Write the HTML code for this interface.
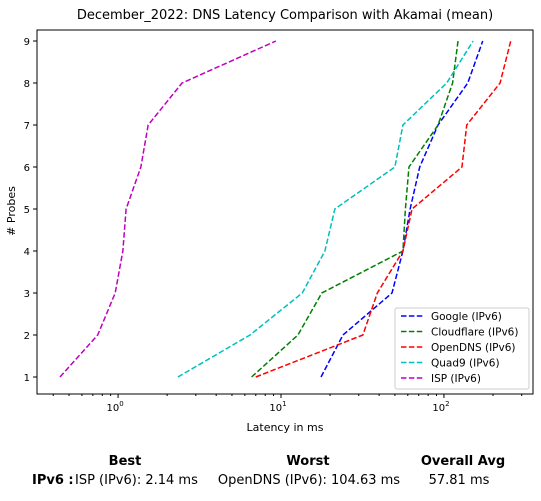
<!DOCTYPE html>
<html><head><meta charset="utf-8"><style>
body{margin:0;background:#fff;font-family:"Liberation Sans","DejaVu Sans",sans-serif}
svg text{font-family:"DejaVu Sans","Liberation Sans",sans-serif}
</style></head><body>
<svg id="chart" width="541" height="496" xmlns="http://www.w3.org/2000/svg">
<rect width="541" height="496" fill="#fff"/>
<text x="285" y="19" font-size="13" text-anchor="middle">December_2022: DNS Latency Comparison with Akamai (mean)</text>
<g id="plot"></g>
<text x="285" y="431" font-size="11" text-anchor="middle">Latency in ms</text>
<text transform="translate(15,211) rotate(-90)" font-size="11" text-anchor="middle"># Probes</text>
<g>
<rect x="395" y="308" width="134" height="81" rx="2" fill="#fff" stroke="#ccc"/>
</g>
<g font-size="13">
<text x="125" y="465" font-weight="bold" text-anchor="middle">Best</text>
<text x="308" y="465" font-weight="bold" text-anchor="middle">Worst</text>
<text x="463" y="465" font-weight="bold" text-anchor="middle">Overall Avg</text>
<text x="32" y="484" font-weight="bold">IPv6 :</text>
<text x="75" y="484">ISP (IPv6): 2.14 ms</text>
<text x="309" y="484" text-anchor="middle">OpenDNS (IPv6): 104.63 ms</text>
<text x="459" y="484" text-anchor="middle">57.81 ms</text>
</g>
</svg>
<script>
const probes=[1,2,3,4,5,6,7,8,9];
const seriesNames=["Google (IPv6)","Cloudflare (IPv6)","OpenDNS (IPv6)","Quad9 (IPv6)","ISP (IPv6)"];
const google=[17.6,24,48,56,62,71,92,140,173];
const cloudflare=[6.6,12.7,17.8,56,58,61,92,113,122];
const opendns=[7.0,31.8,39,56,63.7,129,138,221,257];
const quad9=[2.33,6.45,13.5,18.6,21.4,50,56,104,151];
const isp=[0.44,0.75,0.96,1.07,1.12,1.38,1.53,2.47,9.3];
const yTicks=[1,2,3,4,5,6,7,8,9];
const xMajor=[1,10,100];
const colors=["#0000ff","#008000","#ff0000","#00bfbf","#bf00bf"];
const L=37,R=533,T=30,B=394;
const xMin=Math.log10(0.318),xMax=Math.log10(352);
function xs(v){return L+(Math.log10(v)-xMin)/(xMax-xMin)*(R-L);}
function ys(v){return 377+(v-1)*(41-377)/8;}
const NS="http://www.w3.org/2000/svg";
const g=document.getElementById('plot');
function mk(t,a){const e=document.createElementNS(NS,t);for(const k in a)e.setAttribute(k,a[k]);return e;}
const frame=mk('rect',{x:L,y:T,width:R-L,height:B-T,fill:'none',stroke:'#000','stroke-width':1});


g.appendChild(frame);
yTicks.forEach(v=>{
 const y=ys(v);
 const t=mk('line',{x1:L-4,x2:L,y1:y,y2:y,stroke:'#000'});
 
 
 g.appendChild(t);
 const tx=mk('text',{x:L-7,y:y+4,'font-size':10,'text-anchor':'end'});tx.textContent=v;
 
 
 g.appendChild(tx);
});
for(let d=-1;d<=2;d++){for(let m=1;m<10;m++){const v=m*Math.pow(10,d);if(v<0.318||v>352)continue;
 const x=xs(v);const major=m===1;
 const t=mk('line',{x1:x,x2:x,y1:B,y2:B+(major?4:2),stroke:'#000'});
 
 
 g.appendChild(t);}}
xMajor.forEach((v,i)=>{
 const x=xs(v);
 const tx=mk('text',{x:x-3,y:411,'font-size':10,'text-anchor':'middle'});
 tx.innerHTML='10<tspan dy="-5" font-size="7">'+Math.round(Math.log10(v))+'</tspan>';
 
 
 g.appendChild(tx);
});
const all=[google,cloudflare,opendns,quad9,isp];
all.forEach((s,i)=>{
 const p=mk('polyline',{points:s.map((v,j)=>xs(v)+','+ys(probes[j])).join(' '),fill:'none',stroke:colors[i],'stroke-width':1.5,'stroke-dasharray':'5.5,2.4'});
 
 
 g.appendChild(p);
});
const svg=document.getElementById('chart');
seriesNames.forEach((n,i)=>{
 const y=316+i*15.5;
 const l=mk('line',{x1:401,x2:424,y1:y,y2:y,stroke:colors[i],'stroke-width':1.5,'stroke-dasharray':'5.5,2.4'});
 
 
 svg.appendChild(l);
 const t=mk('text',{x:431,y:y+4,'font-size':10.5});t.textContent=n;
 
 
 svg.appendChild(t);
});
</script>
</body></html>
